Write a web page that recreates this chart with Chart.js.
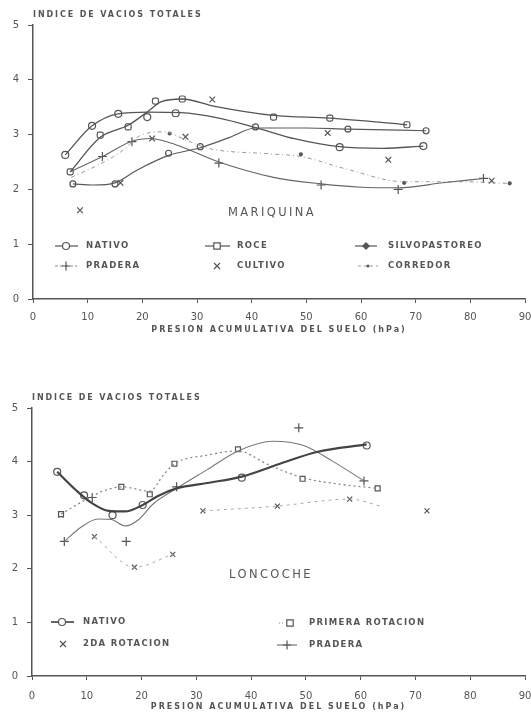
<!DOCTYPE html>
<html>
<head>
<meta charset="utf-8">
<script src="https://cdn.jsdelivr.net/npm/chart.js@4"></script>
<style>
  body { margin: 0; background: #fff; }
  #wrap { position: relative; width: 531px; height: 715px; }
  canvas { position: absolute; left: 0; }
</style>
</head>
<body>
<div id="wrap">
  <canvas id="mariquina" width="531" height="355" style="top:0"></canvas>
  <canvas id="loncoche" width="531" height="360" style="top:355px"></canvas>
</div>
<script>
// Indice de vacios totales vs presion acumulativa - two sites
// values, [presion, indice]

const xTicks = [0, 10, 20, 30, 40, 50, 60, 70, 80, 90];
const yTicks = [0, 1, 2, 3, 4, 5];

// --- MARIQUINA ---
const mNativoPts = [[5.9, 2.63], [10.8, 3.16], [15.6, 3.38], [20.9, 3.32], [26.1, 3.39], [56.1, 2.77], [71.4, 2.79]];
const mNativoCurve = [[5.9, 2.63], [10.8, 3.16], [15.6, 3.38], [21, 3.41], [27, 3.4], [34, 3.3], [41, 3.12], [48, 2.92], [56, 2.78], [64, 2.75], [71.4, 2.79]];
const mRocePts = [[6.8, 2.32], [12.3, 2.99], [17.4, 3.14], [22.4, 3.61], [27.3, 3.65], [44, 3.32], [54.3, 3.30], [68.4, 3.18]];
const mRoceCurve = [[6.8, 2.32], [12.3, 2.95], [17.4, 3.17], [21, 3.42], [23.5, 3.6], [27.3, 3.65], [33, 3.52], [44, 3.35], [54.3, 3.3], [68.4, 3.18]];
const mSilvoPts = [[7.3, 2.1], [15, 2.1], [24.8, 2.66], [30.6, 2.78], [40.7, 3.14], [57.6, 3.10], [71.9, 3.07]];
const mSilvoCurve = [[7.3, 2.1], [11, 2.08], [15, 2.12], [19, 2.35], [24.8, 2.62], [30.6, 2.76], [36, 2.95], [40.7, 3.12], [50, 3.12], [57.6, 3.1], [71.9, 3.07]];
const mPraderaPts = [[12.7, 2.6], [18.1, 2.87], [34, 2.48], [52.7, 2.08], [66.8, 2.0], [82.4, 2.2]];
const mPraderaCurve = [[6.8, 2.32], [12.7, 2.6], [18.1, 2.88], [21.5, 2.93], [26, 2.82], [34, 2.5], [44, 2.22], [52.7, 2.1], [60, 2.04], [66.8, 2.03], [75, 2.12], [82.4, 2.2]];
const mCultivoPts = [[8.6, 1.62], [16, 2.12], [21.8, 2.93], [27.9, 2.96], [32.8, 3.64], [53.9, 3.03], [65, 2.54], [83.9, 2.16]];
const mCorredorPts = [[25, 3.02], [49, 2.64], [67.9, 2.12], [87.2, 2.11]];
const mCorredorCurve = [[7, 2.22], [12, 2.45], [16, 2.68], [20, 3.0], [24, 3.05], [28, 2.9], [32, 2.75], [43, 2.65], [49, 2.6], [57, 2.38], [67.9, 2.14], [78, 2.14], [87.2, 2.11]];

// --- LONCOCHE ---
const lNativoPts = [[4.6, 3.81], [9.5, 3.37], [14.7, 3.0], [20.2, 3.19], [38.3, 3.70], [61.1, 4.30]];
const lNativoCurve = [[4.6, 3.81], [8, 3.47], [11, 3.22], [14, 3.08], [17, 3.07], [20.2, 3.19], [23, 3.36], [26.4, 3.5], [32, 3.6], [38.3, 3.72], [45, 3.95], [52, 4.18], [61.1, 4.32]];
const lPrimeraPts = [[5.3, 3.02], [16.3, 3.53], [21.5, 3.39], [26, 3.96], [37.6, 4.23], [49.4, 3.68], [63.1, 3.50]];
const lPrimeraCurve = [[5.3, 3.02], [10, 3.3], [13, 3.45], [16.3, 3.53], [21.5, 3.45], [24, 3.75], [26, 3.96], [32, 4.12], [37.6, 4.2], [43, 3.95], [49.4, 3.7], [56, 3.58], [63.1, 3.5]];
const lPraderaPts = [[5.9, 2.51], [11, 3.33], [17.2, 2.51], [26.4, 3.53], [48.7, 4.63], [60.6, 3.64]];
const lPraderaCurve = [[5.9, 2.51], [9, 2.78], [12, 2.93], [14.5, 2.92], [17, 2.8], [19.5, 2.92], [22, 3.2], [26.4, 3.5], [32, 3.85], [37.6, 4.2], [44, 4.38], [49.6, 4.3], [55, 4.0], [60.6, 3.64]];
const l2daPts = [[5.3, 3.0], [11.4, 2.6], [18.7, 2.03], [25.7, 2.27], [31.2, 3.08], [44.8, 3.17], [58, 3.3], [72.1, 3.08]];
const l2daCurve = [[11.4, 2.6], [18.7, 2.03], [25.7, 2.27], [28, null], [31.2, 3.08], [44.8, 3.17], [58, 3.3], [64, 3.16]];

const INK = '#555';
Chart.defaults.font.family = "'DejaVu Sans', sans-serif";
Chart.defaults.color = INK;

function xy(arr) {
    return arr.map(p => ({ x: p[0], y: p[1] }));
}

function curve(arr, color, width, dash) {
    return {
        data: xy(arr), showLine: true, pointRadius: 0, pointHoverRadius: 0,
        borderColor: color, borderWidth: width, borderDash: dash || [],
        cubicInterpolationMode: 'monotone', spanGaps: false, fill: false
    };
}

function marks(arr, style, radius, fill) {
    return {
        data: xy(arr), showLine: false, pointStyle: style, pointRadius: radius,
        pointBorderColor: INK, pointBorderWidth: 1.2,
        pointBackgroundColor: fill || '#fff'
    };
}

// little marker painter for the hand-placed legends
function drawMark(ctx, style, x, y) {
    ctx.save();
    ctx.strokeStyle = INK;
    ctx.fillStyle = '#fff';
    ctx.lineWidth = 1.2;
    ctx.beginPath();
    if (style === 'circle') {
        ctx.arc(x, y, 3.5, 0, Math.PI * 2); ctx.fill(); ctx.stroke();
    } else if (style === 'rect') {
        ctx.rect(x - 3.2, y - 3.2, 6.4, 6.4); ctx.fill(); ctx.stroke();
    } else if (style === 'rectRot') {
        ctx.moveTo(x, y - 4); ctx.lineTo(x + 4, y); ctx.lineTo(x, y + 4); ctx.lineTo(x - 4, y); ctx.closePath();
        ctx.fillStyle = INK; ctx.fill();
    } else if (style === 'cross') {
        ctx.moveTo(x, y - 4.5); ctx.lineTo(x, y + 4.5); ctx.moveTo(x - 4, y); ctx.lineTo(x + 4, y); ctx.stroke();
    } else if (style === 'crossRot') {
        ctx.moveTo(x - 3, y - 3); ctx.lineTo(x + 3, y + 3); ctx.moveTo(x + 3, y - 3); ctx.lineTo(x - 3, y + 3); ctx.stroke();
    } else if (style === 'dot') {
        ctx.fillStyle = INK; ctx.arc(x, y, 1.5, 0, Math.PI * 2); ctx.fill();
    }
    ctx.restore();
}

function spaced(ctx, text, x, y, font, spacing, align) {
    ctx.save();
    ctx.font = font;
    ctx.fillStyle = INK;
    ctx.letterSpacing = spacing + 'px';
    ctx.textAlign = align || 'left';
    ctx.textBaseline = 'middle';
    ctx.fillText(text, x, y);
    ctx.restore();
}

const annotPlugin = {
    id: 'annot',
    afterDraw(chart, args, opts) {
        const ctx = chart.ctx;
        const area = chart.chartArea;
        spaced(ctx, 'INDICE DE VACIOS TOTALES', area.left, opts.titleY, "bold 8px 'DejaVu Sans'", 1.9);
        spaced(ctx, 'PRESION ACUMULATIVA DEL SUELO (hPa)', (area.left + area.right) / 2, area.bottom + 31, "bold 8px 'DejaVu Sans'", 2, 'center');
        spaced(ctx, opts.site, opts.siteX, opts.siteY, "11.5px 'DejaVu Sans'", 2.4, 'center');
        opts.legend.forEach(it => {
            if (it.line) {
                ctx.save();
                ctx.strokeStyle = it.lineColor || INK;
                ctx.lineWidth = it.lineWidth || 1.2;
                ctx.setLineDash(it.dash || []);
                ctx.beginPath();
                ctx.moveTo(it.line[0], it.y);
                ctx.lineTo(it.line[1], it.y);
                ctx.stroke();
                ctx.restore();
            }
            drawMark(ctx, it.style, it.mx, it.y);
            spaced(ctx, it.text, it.tx, it.y, "bold 8.5px 'DejaVu Sans'", 1.3);
        });
    }
};

function makeChart(id, datasets, frame, annot) {
    new Chart(document.getElementById(id), {
        type: 'scatter',
        data: { datasets: datasets },
        plugins: [annotPlugin],
        options: {
            responsive: false,
            animation: false,
            devicePixelRatio: 1,
            layout: { padding: { top: frame.top, right: 6, bottom: 0, left: 0 } },
            plugins: { legend: { display: false }, tooltip: { enabled: false }, annot: annot },
            scales: {
                x: {
                    type: 'linear', min: 0, max: 90,
                    afterBuildTicks: s => { s.ticks = xTicks.map(v => ({ value: v })); },
                    afterFit: s => { s.height = frame.xh; s.paddingLeft = 0; s.paddingRight = 0; },
                    ticks: { font: { size: 10 }, color: INK, padding: frame.xpad, maxRotation: 0 },
                    grid: { drawOnChartArea: false, drawTicks: true, tickLength: 4, color: INK },
                    border: { display: true, color: INK, width: 1.5 }
                },
                y: {
                    type: 'linear', min: 0, max: 5,
                    afterBuildTicks: s => { s.ticks = yTicks.map(v => ({ value: v })); },
                    afterFit: s => { s.width = frame.left; },
                    ticks: { font: { size: 10 }, color: INK, padding: 9 },
                    grid: { drawOnChartArea: false, drawTicks: true, tickLength: 5, color: INK },
                    border: { display: true, color: INK, width: 1.5 }
                }
            }
        }
    });
}

makeChart('mariquina', [
    curve(mNativoCurve, '#555', 1.3),
    curve(mRoceCurve, '#555', 1.3),
    curve(mSilvoCurve, '#5a5a5a', 1.2),
    curve(mPraderaCurve, '#666', 1.1),
    curve(mCorredorCurve, '#999', 1, [4, 3, 1, 3]),
    marks(mNativoPts, 'circle', 3.5),
    marks(mRocePts, 'rectRounded', 3.5),
    marks(mSilvoPts, 'circle', 3),
    marks(mPraderaPts, 'cross', 4.5),
    marks(mCultivoPts, 'crossRot', 4),
    marks(mCorredorPts, 'circle', 1.5, INK)
], { top: 25, left: 33, xh: 56, xpad: 8 }, {
    titleY: 15, site: 'MARIQUINA', siteX: 272, siteY: 213,
    legend: [
        { text: 'NATIVO', style: 'circle', mx: 66, tx: 86, y: 246, line: [55, 78] },
        { text: 'ROCE', style: 'rect', mx: 217, tx: 237, y: 246, line: [205, 230] },
        { text: 'SILVOPASTOREO', style: 'rectRot', mx: 366, tx: 388, y: 246, line: [355, 377] },
        { text: 'PRADERA', style: 'cross', mx: 66, tx: 86, y: 266, line: [55, 77], dash: [3, 2], lineColor: '#888' },
        { text: 'CULTIVO', style: 'crossRot', mx: 217, tx: 237, y: 266 },
        { text: 'CORREDOR', style: 'dot', mx: 368, tx: 388, y: 266, line: [358, 378], dash: [3, 3], lineColor: '#999' }
    ]
});

makeChart('loncoche', [
    curve(lNativoCurve, '#444', 2.2),
    curve(lPrimeraCurve, '#888', 1.3, [2, 3]),
    curve(lPraderaCurve, '#777', 1.1),
    curve(l2daCurve, '#aaa', 1, [3, 4]),
    marks(lNativoPts, 'circle', 3.5),
    marks(lPrimeraPts, 'rect', 3.5),
    marks(lPraderaPts, 'cross', 4.5),
    marks(l2daPts, 'crossRot', 3.5)
], { top: 53, left: 32, xh: 39, xpad: 10 }, {
    titleY: 43, site: 'LONCOCHE', siteX: 271, siteY: 220,
    legend: [
        { text: 'NATIVO', style: 'circle', mx: 62, tx: 83, y: 267, line: [51, 74], lineWidth: 1.8 },
        { text: '2DA ROTACION', style: 'crossRot', mx: 63, tx: 83, y: 289 },
        { text: 'PRIMERA ROTACION', style: 'rect', mx: 290, tx: 309, y: 268, line: [279, 284], dash: [1, 2], lineColor: '#888' },
        { text: 'PRADERA', style: 'cross', mx: 287, tx: 309, y: 290, line: [277, 297], lineColor: '#777' }
    ]
});
</script>
</body>
</html>
